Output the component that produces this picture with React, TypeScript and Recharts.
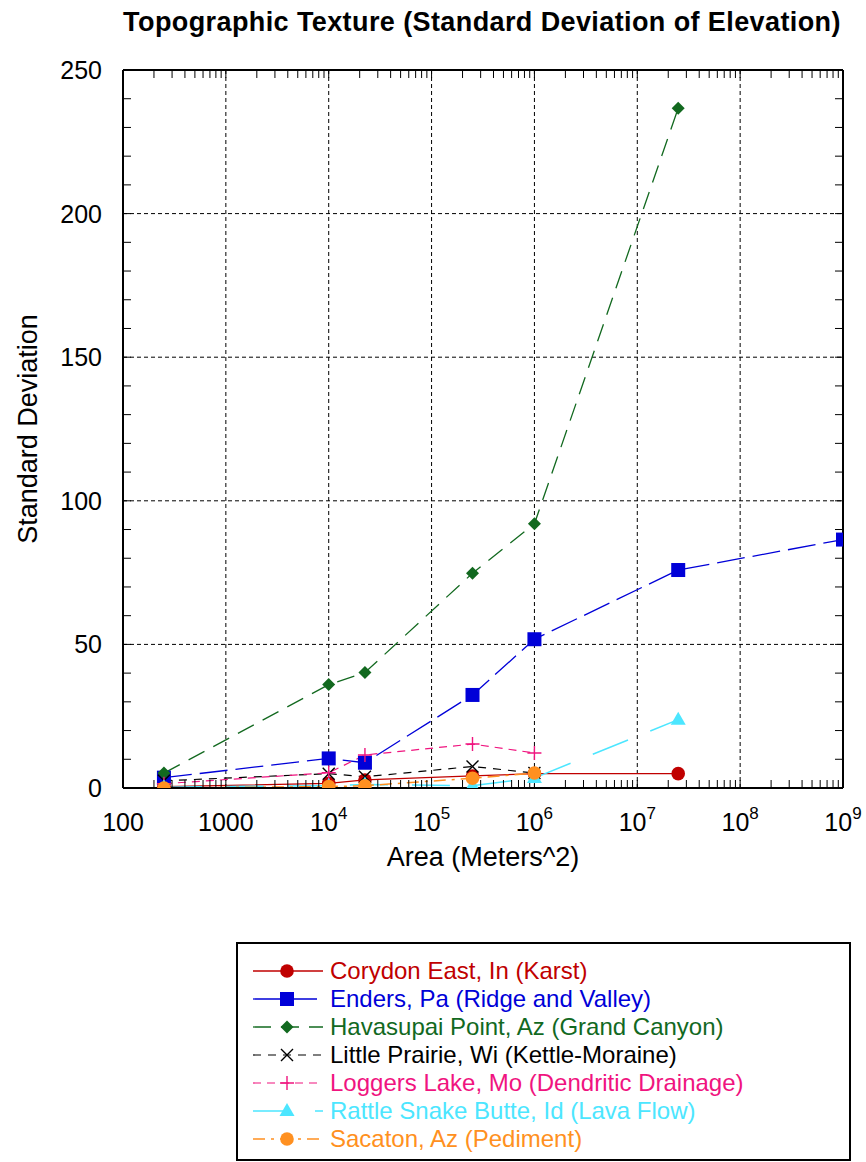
import { LineChart, Line, XAxis, YAxis, CartesianGrid, Label } from 'recharts'

// area of each sample window, m^2
const areas = [250, 1e4, 22500, 250000, 1e6, 2.5e7, 1e9]

// standard deviation of elevation per site (null = no sample)
const corydon = [0.5, 1.6, 2.8, 4.2, 5, 5, null]
const enders = [3.6, 10.3, 8.8, 32.4, 51.8, 75.9, 86.5]
const havasupai = [5.2, 36, 40.2, 74.8, 92, 236.7, null]
const littlePrairie = [2.5, 5, 3.9, 7.5, 5.2, null, null]
const loggersLake = [1.5, 5.3, 11.5, 15.3, 12.2, null, null]
const rattleSnake = [0.3, 0.8, 1.2, 0.8, 3.5, 23.8, null]
const sacaton = [0, 0.5, 0.8, 3.4, 5.2, null, null]

const xTicks = [100, 1e3, 1e4, 1e5, 1e6, 1e7, 1e8, 1e9]
const xMinorTicks = xTicks.slice(0, -1).flatMap((d) => [1, 2, 3, 4, 5, 6, 7, 8, 9].map((m) => m * d)).concat([1e9])
const yTicks = [0, 50, 100, 150, 200, 250]
const yMinorTicks = [0, 10, 20, 30, 40, 50, 60, 70, 80, 90, 100, 110, 120, 130, 140, 150, 160, 170, 180, 190, 200, 210, 220, 230, 240, 250]

const FONT = '"Liberation Sans", Arial, sans-serif'

type Marker = 'circle' | 'square' | 'diamond' | 'cross' | 'plus' | 'triangle'

const series: { key: string; name: string; values: (number | null)[]; color: string; dash?: string; marker: Marker; width: number }[] = [
  { key: 'corydon', name: 'Corydon East, In (Karst)', values: corydon, color: '#c00000', marker: 'circle', width: 1.3 },
  { key: 'enders', name: 'Enders, Pa (Ridge and Valley)', values: enders, color: '#0000d8', dash: '28 8', marker: 'square', width: 1.3 },
  { key: 'havasupai', name: 'Havasupai Point, Az (Grand Canyon)', values: havasupai, color: '#12691f', dash: '18 10', marker: 'diamond', width: 1.3 },
  { key: 'littlePrairie', name: 'Little Prairie, Wi (Kettle-Moraine)', values: littlePrairie, color: '#000000', dash: '8 7', marker: 'cross', width: 1.2 },
  { key: 'loggers', name: 'Loggers Lake, Mo (Dendritic Drainage)', values: loggersLake, color: '#f0147f', dash: '8 6', marker: 'plus', width: 1.2 },
  { key: 'rattle', name: 'Rattle Snake Butte, Id (Lava Flow)', values: rattleSnake, color: '#4ce6ff', dash: '38 24', marker: 'triangle', width: 1.5 },
  { key: 'sacaton', name: 'Sacaton, Az (Pediment)', values: sacaton, color: '#ff9020', dash: '12 6 3 6', marker: 'circle', width: 1.5 },
]

function toPoints(values: (number | null)[]) {
  return areas
    .map((area, i) => ({ area, sd: values[i] }))
    .filter((p) => p.sd !== null)
}

function drawMarker(marker: Marker, cx: number, cy: number, color: string) {
  switch (marker) {
    case 'circle':
      return <circle cx={cx} cy={cy} r={6.8} fill={color} />
    case 'square':
      return <rect x={cx - 7} y={cy - 7} width={14} height={14} fill={color} />
    case 'diamond':
      return <polygon points={`${cx},${cy - 6.5} ${cx + 6.5},${cy} ${cx},${cy + 6.5} ${cx - 6.5},${cy}`} fill={color} />
    case 'cross':
      return (
        <path d={`M${cx - 6},${cy - 6}L${cx + 6},${cy + 6}M${cx - 6},${cy + 6}L${cx + 6},${cy - 6}`} stroke={color} strokeWidth={1.4} />
      )
    case 'plus':
      return <path d={`M${cx - 7},${cy}L${cx + 7},${cy}M${cx},${cy - 7}L${cx},${cy + 7}`} stroke={color} strokeWidth={1.4} />
    case 'triangle':
      return <polygon points={`${cx},${cy - 8} ${cx + 7.5},${cy + 5} ${cx - 7.5},${cy + 5}`} fill={color} />
  }
}

function NoLabel() {
  return <g />
}

function XTick({ x, y, payload }: any) {
  const v = payload.value as number
  const exp = Math.round(Math.log10(v))
  const common = { x, y: y + 43, textAnchor: 'middle' as const, fontSize: 25, fontFamily: FONT, fill: '#000' }
  if (exp < 4) return <text {...common}>{v}</text>
  return (
    <text {...common}>
      10<tspan dy={-12} fontSize={17}>{exp}</tspan>
    </text>
  )
}

function YTick({ x, y, payload }: any) {
  return (
    <text x={x - 21} y={y + 9} textAnchor="end" fontSize={25} fontFamily={FONT} fill="#000">
      {payload.value}
    </text>
  )
}

function LegendBox() {
  return (
    <div
      style={{
        position: 'absolute',
        left: 236,
        top: 942,
        width: 611,
        height: 215,
        border: '2px solid #000',
        background: '#fff',
      }}
    >
      {series.map((s, i) => (
        <div key={s.key} style={{ position: 'absolute', left: 0, top: 13 + i * 28, height: 28, display: 'flex', alignItems: 'center' }}>
          <svg width={92} height={28} style={{ display: 'block' }}>
            <line x1={15} x2={85} y1={14} y2={14} stroke={s.color} strokeWidth={s.width} strokeDasharray={s.dash} />
            {drawMarker(s.marker, 49, 14, s.color)}
          </svg>
          <span style={{ fontFamily: FONT, fontSize: 24, color: s.color, whiteSpace: 'nowrap', lineHeight: '28px' }}>{s.name}</span>
        </div>
      ))}
    </div>
  )
}

export default function App() {
  return (
    <div style={{ position: 'relative', width: 866, height: 1162, background: '#fff' }}>
      <style>{'body{margin:0}'}</style>
      <div
        style={{
          position: 'absolute',
          top: 7,
          left: 112,
          width: 740,
          textAlign: 'center',
          fontFamily: FONT,
          fontWeight: 'bold',
          fontSize: 27,
          letterSpacing: 0.4,
          whiteSpace: 'nowrap',
        }}
      >
        Topographic Texture (Standard Deviation of Elevation)
      </div>
      <LineChart width={866} height={900} margin={{ top: 70, right: 23, bottom: 22, left: 0 }}>
        <CartesianGrid xAxisId="x" yAxisId="y" stroke="#000" strokeDasharray="4 3" strokeWidth={1} />
        <XAxis
          xAxisId="x"
          dataKey="area"
          type="number"
          scale="log"
          domain={[100, 1e9]}
          allowDataOverflow
          ticks={xTicks}
          tick={<XTick />}
          tickSize={0}
          tickMargin={0}
          tickLine={false}
          axisLine={{ stroke: '#000', strokeWidth: 2 }}
          height={90}
          interval={0}
        >
          <Label
            content={({ viewBox }: any) => (
              <text x={viewBox.x + viewBox.width / 2} y={viewBox.y + 78} textAnchor="middle" fontSize={27} fontFamily={FONT} fill="#000">
                Area (Meters^2)
              </text>
            )}
          />
        </XAxis>
        <XAxis
          xAxisId="xb"
          dataKey="area"
          type="number"
          scale="log"
          domain={[100, 1e9]}
          allowDataOverflow
          ticks={xMinorTicks}
          interval={0}
          mirror
          tick={<NoLabel />}
          tickSize={8}
          tickLine={{ stroke: '#000', strokeWidth: 1 }}
          axisLine={false}
        />
        <XAxis
          xAxisId="xt"
          dataKey="area"
          orientation="top"
          type="number"
          scale="log"
          domain={[100, 1e9]}
          allowDataOverflow
          ticks={xMinorTicks}
          interval={0}
          mirror
          tick={<NoLabel />}
          tickSize={8}
          tickLine={{ stroke: '#000', strokeWidth: 1 }}
          axisLine={{ stroke: '#000', strokeWidth: 2 }}
        />
        <YAxis
          yAxisId="y"
          type="number"
          domain={[0, 250]}
          allowDataOverflow
          ticks={yTicks}
          interval={0}
          tick={<YTick />}
          tickSize={0}
          tickMargin={0}
          tickLine={false}
          axisLine={{ stroke: '#000', strokeWidth: 2 }}
          width={123}
        >
          <Label
            content={({ viewBox }: any) => {
              const cx = 28
              const cy = viewBox.y + viewBox.height / 2
              return (
                <text x={cx} y={cy} transform={`rotate(-90 ${cx} ${cy})`} textAnchor="middle" dominantBaseline="central" fontSize={27} fontFamily={FONT} fill="#000">
                  Standard Deviation
                </text>
              )
            }}
          />
        </YAxis>
        <YAxis
          yAxisId="yl"
          type="number"
          domain={[0, 250]}
          allowDataOverflow
          ticks={yMinorTicks}
          interval={0}
          mirror
          tick={<NoLabel />}
          tickSize={8}
          tickLine={{ stroke: '#000', strokeWidth: 1 }}
          axisLine={false}
        />
        <YAxis
          yAxisId="yr"
          orientation="right"
          type="number"
          domain={[0, 250]}
          allowDataOverflow
          ticks={yMinorTicks}
          interval={0}
          mirror
          tick={<NoLabel />}
          tickSize={8}
          tickLine={{ stroke: '#000', strokeWidth: 1 }}
          axisLine={{ stroke: '#000', strokeWidth: 2 }}
        />
        {series.map((s) => (
          <Line
            key={s.key}
            xAxisId="x"
            yAxisId="y"
            data={toPoints(s.values)}
            dataKey="sd"
            name={s.name}
            type="linear"
            stroke={s.color}
            strokeWidth={s.width}
            strokeDasharray={s.dash}
            dot={(p: any) => <g key={`${s.key}-${p.index}`}>{drawMarker(s.marker, p.cx, p.cy, s.color)}</g>}
            activeDot={false}
            isAnimationActive={false}
          />
        ))}
      </LineChart>
      <LegendBox />
    </div>
  )
}
